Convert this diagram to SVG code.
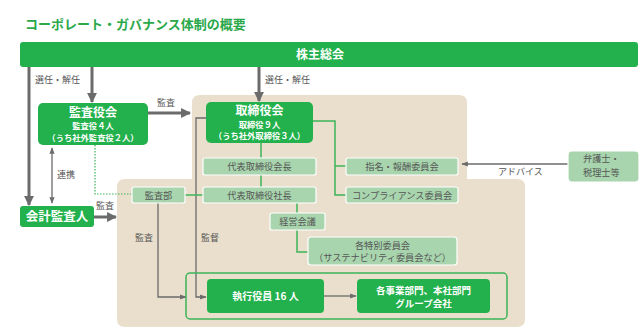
<svg xmlns="http://www.w3.org/2000/svg" width="643" height="333" viewBox="0 0 643 333">
<style>
text{font-family:"Noto Sans CJK JP","Noto Sans",sans-serif;}
.dk{fill:#22b14c;}
.lt{fill:#a8d5ad;stroke:#ffffff;stroke-width:1.2;}
.wt{fill:#ffffff;font-weight:bold;text-anchor:middle;}
.gt{fill:#555555;text-anchor:middle;font-size:9.2px;}
.gs{fill:#555555;text-anchor:start;font-size:9.2px;}
.lb{fill:#555555;font-size:9px;}
.thick{stroke:#6b6b6b;stroke-width:3;fill:none;}
.thin{stroke:#6b6b6b;stroke-width:1.3;fill:none;}
.gl{stroke:#3cb55a;stroke-width:1.5;fill:none;}
</style>
<defs>
<marker id="ah" viewBox="0 0 10 10" refX="9" refY="5" markerWidth="3.3" markerHeight="3.6" orient="auto" markerUnits="strokeWidth"><path d="M0,0 L10,5 L0,10 Z" fill="#6b6b6b"/></marker>
<marker id="as" viewBox="0 0 10 10" refX="9" refY="5" markerWidth="5" markerHeight="5" orient="auto-start-reverse" markerUnits="strokeWidth"><path d="M0,1 L10,5 L0,9 Z" fill="#6b6b6b"/></marker>
</defs>
<rect width="643" height="333" fill="#ffffff"/>
<text x="25" y="29" font-size="13" fill="#2aa84a" font-weight="bold">コーポレート・ガバナンス体制の概要</text>

<path id="bg" d="M200,95 H459 Q467,95 467,103 V179 H517 Q525,179 525,187 V319 Q525,327 517,327 H125 Q117,327 117,319 V187 Q117,179 125,179 H192 V103 Q192,95 200,95 Z" fill="#e9dfcc"/>

<g id="connectors">
<line class="thick" x1="29" y1="67" x2="29" y2="205" marker-end="url(#ah)"/>
<line class="thick" x1="92" y1="67" x2="92" y2="102" marker-end="url(#ah)"/>
<line class="thick" x1="259" y1="67" x2="259" y2="101" marker-end="url(#ah)"/>
<line class="thick" x1="148" y1="113" x2="190" y2="113" marker-end="url(#ah)"/>
<line class="thick" x1="94" y1="217" x2="116" y2="217" marker-end="url(#ah)"/>
<line class="thin" x1="52" y1="148" x2="52" y2="203" marker-start="url(#as)" marker-end="url(#as)"/>
<polyline class="thin" points="206,118 196,118 196,297 206,297" marker-end="url(#as)"/>
<polyline class="thin" points="158,203 158,297 186,297" marker-end="url(#as)"/>
<line class="thin" x1="324" y1="296" x2="356" y2="296" marker-end="url(#as)"/>
<line class="thin" x1="568" y1="164" x2="462" y2="164" marker-end="url(#as)"/>
<polyline points="95,145 95,194 132,194" fill="none" stroke="#3cb55a" stroke-width="1.2" stroke-dasharray="1.5,1.5"/>
<line class="gl" x1="261" y1="143" x2="261" y2="187"/>
<line class="gl" x1="185" y1="195" x2="203" y2="195"/>
<polyline class="gl" points="313,121 335,121 335,195 346,195"/>
<line class="gl" x1="335" y1="166" x2="346" y2="166"/>
<line class="gl" x1="297" y1="203" x2="297" y2="213"/>
<polyline class="gl" points="297,230 297,252 309,252"/>
<text class="lb" x="35" y="83">選任・解任</text>
<text class="lb" x="265" y="83">選任・解任</text>
<text class="lb" x="157" y="106">監査</text>
<text class="lb" x="96" y="209">監査</text>
<text class="lb" x="57" y="178">連携</text>
<text class="lb" x="135" y="241">監査</text>
<text class="lb" x="201" y="241">監督</text>
<text class="lb" x="498" y="175">アドバイス</text>
</g>

<g id="n-shareholders"><rect class="dk" x="20" y="42" width="618" height="25" rx="3"/><text class="wt" x="320" y="59" font-size="12">株主総会</text></g>
<g id="n-kansayakukai"><rect class="dk" x="38" y="103" width="110" height="42" rx="5"/><text class="wt" x="93" y="116.5" font-size="12">監査役会</text><text class="wt" x="93" y="128.5" font-size="8.3">監査役４人</text><text class="wt" x="93" y="140.5" font-size="8.3">（うち社外監査役２人）</text></g>
<g id="n-torishimariyakukai"><rect class="dk" x="206" y="102" width="107" height="41" rx="5"/><text class="wt" x="259.5" y="115" font-size="12">取締役会</text><text class="wt" x="259.5" y="127.5" font-size="8.3">取締役９人</text><text class="wt" x="259.5" y="139" font-size="8.3">（うち社外取締役３人）</text></g>
<g id="n-kaikei"><rect class="dk" x="20" y="206" width="74" height="21" rx="3"/><text class="wt" x="57" y="221" font-size="12.5">会計監査人</text></g>
<g id="n-kaicho"><rect class="lt" x="203" y="158" width="113" height="17" rx="2"/><text class="gt" x="259.5" y="170">代表取締役会長</text></g>
<g id="n-shacho"><rect class="lt" x="203" y="187" width="113" height="16" rx="2"/><text class="gt" x="259.5" y="198.5">代表取締役社長</text></g>
<g id="n-kansabu"><rect class="lt" x="132" y="187" width="53" height="16" rx="2"/><text class="gt" x="158.5" y="198.5">監査部</text></g>
<g id="n-shimei"><rect class="lt" x="346" y="158" width="112" height="17" rx="2"/><text class="gt" x="402" y="170">指名・報酬委員会</text></g>
<g id="n-compliance"><rect class="lt" x="346" y="187" width="112" height="16" rx="2"/><text class="gt" x="402" y="198.5">コンプライアンス委員会</text></g>
<g id="n-keiei"><rect class="lt" x="270" y="213" width="55" height="17" rx="2"/><text class="gt" x="297.5" y="225">経営会議</text></g>
<g id="n-tokubetsu"><rect class="lt" x="308" y="237" width="149" height="28" rx="3"/><text class="gt" x="382.5" y="248.5">各特別委員会</text><text class="gt" x="382.5" y="261">（サステナビリティ委員会など）</text></g>
<g id="n-bengoshi"><rect class="lt" x="568" y="151" width="71" height="31" rx="4"/><text class="gs" x="583" y="162">弁護士・</text><text class="gs" x="583" y="176">税理士等</text></g>
<g id="n-shikko-group"><rect x="186" y="273" width="321" height="46" rx="4" fill="none" stroke="#3cb55a" stroke-width="1.5"/></g>
<g id="n-shikko"><rect class="dk" x="207" y="279" width="117" height="34" rx="4"/><text class="wt" x="265.5" y="300" font-size="10">執行役員 16 人</text></g>
<g id="n-jigyobu"><rect class="dk" x="357" y="279" width="133" height="34" rx="4"/><text class="wt" x="423.5" y="294" font-size="9.5">各事業部門、本社部門</text><text class="wt" x="423.5" y="307" font-size="9.5">グループ会社</text></g>
</svg>
